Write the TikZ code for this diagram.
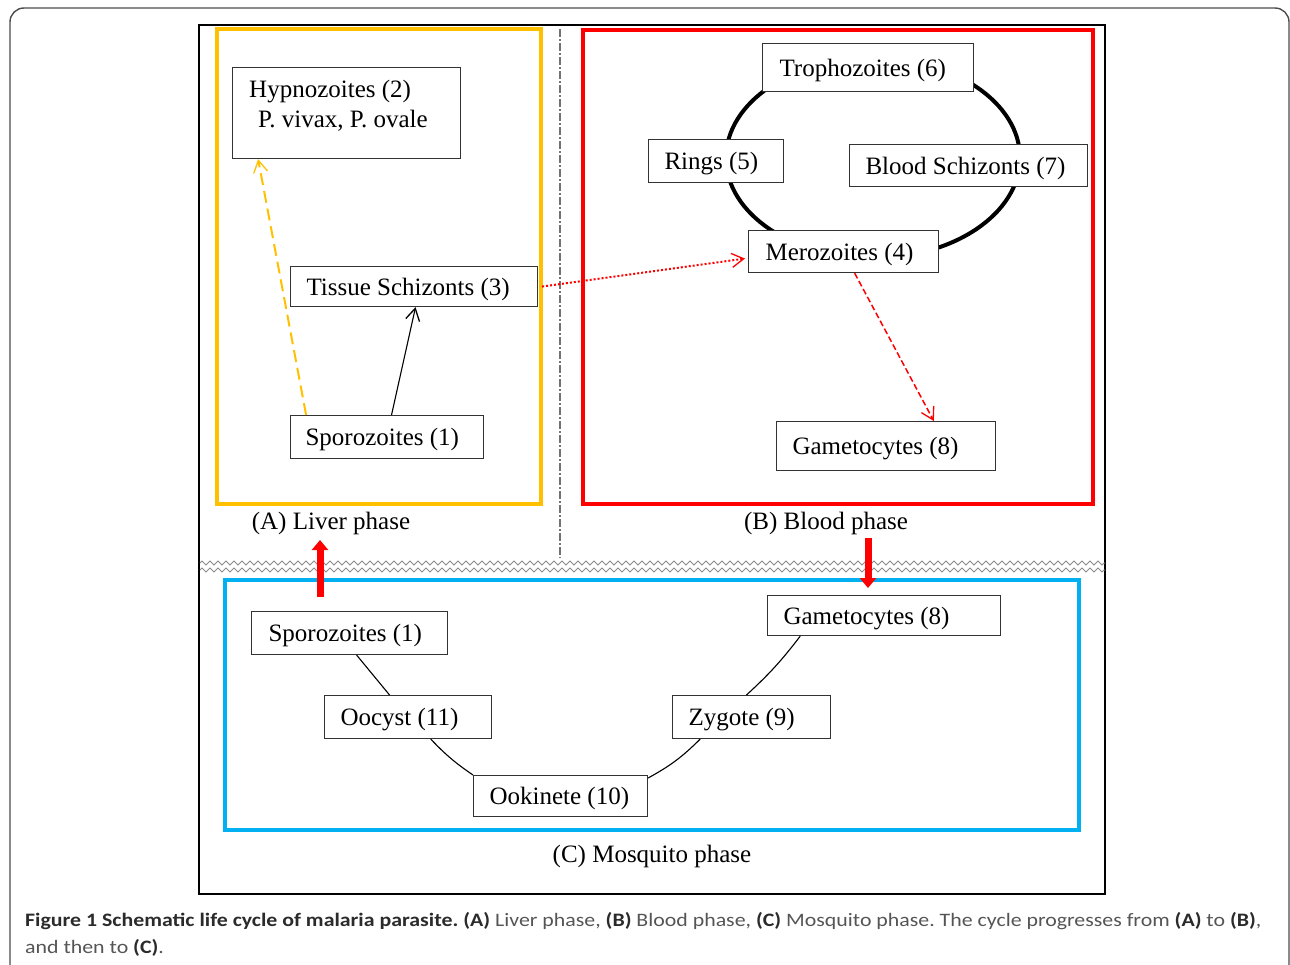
\documentclass[tikz,border=0pt]{standalone}
\usepackage{fontspec}
\setmainfont{Liberation Serif}
\newfontfamily\capfont[FakeStretch=1.15]{Carlito}
\usetikzlibrary{arrows.meta,decorations.pathmorphing,calc}
\definecolor{liver}{HTML}{FFC000}
\definecolor{blood}{HTML}{FF0000}
\definecolor{mosq}{HTML}{00B0F0}
\definecolor{capbold}{HTML}{2B2B2B}
\definecolor{capnorm}{HTML}{555555}
\newcommand\bxt[2]{\raisebox{-2.5pt}[\height][\depth]{\makebox[#1pt][l]{#2}}}
\begin{document}
\begin{tikzpicture}[x=1pt,y=-1pt,
  box/.style={draw=black!80, fill=white, line width=1.1pt, anchor=north west, inner ysep=0pt,
    font=\fontsize{25}{29}\selectfont},
  phase/.style={font=\fontsize{25}{29}\selectfont},
  panel/.style={line width=4pt},
  link/.style={line width=1.1pt, black},
  openhead/.style={-{Straight Barb[length=12pt,width=14pt,line width=1.3pt]}},
  bigarrow/.style={line width=7pt, blood, -{Triangle[length=10pt,width=16pt]}}]
\useasboundingbox (0,0) rectangle (1290,964);
% outer frame
\draw[black!70, line width=1.4pt, rounded corners=14pt] (10,990) -- (10,8) -- (1289,8) -- (1289,990);
% inner black frame
\draw[black, line width=1.5pt] (199,25) rectangle (1105,894);
% panels
\draw[panel, liver] (217,29) rectangle (541,504);
\draw[panel, blood] (583,30) rectangle (1093,504);
\draw[panel, mosq] (225,580) rectangle (1079,830);
\draw[black!55, line width=1.2pt, dash pattern=on 8pt off 2pt on 2pt off 2pt] (560,29) -- (560,558);
% zigzag separator
\draw[black!45, line width=1pt, decorate, decoration={zigzag, segment length=8pt, amplitude=2pt}] (200,563) -- (1105,563);
\draw[black!45, line width=1pt, decorate, decoration={zigzag, segment length=8pt, amplitude=2pt}] (200,570) -- (1105,570);
% phase labels
\node[phase] (lA) at (331,523) {(A) Liver phase};
\node[phase] (lB) at (826,523) {(B) Blood phase};
\node[phase] (lC) at (652,856) {(C) Mosquito phase};
% blood cycle ellipse
\draw[line width=4pt] (873,158) ellipse [x radius=147, y radius=100];
% liver nodes
\node[box, minimum width=228pt, minimum height=91pt] (hyp) at (232,67) {};
\node[anchor=north west, inner sep=0pt, align=left, font=\fontsize{25}{29.5}\selectfont] (hypt) at (249,80) {Hypnozoites (2)\\\hspace*{9pt}P. vivax, P. ovale};
\node[box, minimum width=247pt, minimum height=40pt, inner xsep=16pt] (tis) at (290,266) {\bxt{215}{Tissue Schizonts (3)}};
\node[box, minimum width=193pt, minimum height=43pt, inner xsep=15pt] (spl) at (290,415) {\bxt{163}{Sporozoites (1)}};
% blood nodes
\node[box, minimum width=211pt, minimum height=48pt, inner xsep=17pt] (tro) at (762,43) {\bxt{177}{Trophozoites (6)}};
\node[box, minimum width=135pt, minimum height=43pt, inner xsep=16pt] (rin) at (648,139) {\bxt{103}{Rings (5)}};
\node[box, minimum width=238pt, minimum height=42pt, inner xsep=16pt] (bsc) at (849,144) {\bxt{206}{Blood Schizonts (7)}};
\node[box, minimum width=190pt, minimum height=42pt, inner xsep=17pt] (mer) at (748,230) {\bxt{156}{Merozoites (4)}};
\node[box, minimum width=219pt, minimum height=49pt, inner xsep=16pt] (gam) at (776,421) {\bxt{187}{Gametocytes (8)}};
% mosquito nodes
\node[box, minimum width=196pt, minimum height=43pt, inner xsep=17pt] (mspo) at (251,611) {\bxt{162}{Sporozoites (1)}};
\node[box, minimum width=167pt, minimum height=43pt, inner xsep=16pt] (ooc) at (324,695) {\bxt{135}{Oocyst (11)}};
\node[box, minimum width=174pt, minimum height=41pt, inner xsep=16pt] (ook) at (473,775) {\bxt{142}{Ookinete (10)}};
\node[box, minimum width=158pt, minimum height=43pt, inner xsep=16pt] (zyg) at (672,695) {\bxt{126}{Zygote (9)}};
\node[box, minimum width=233pt, minimum height=40pt, inner xsep=16pt] (mgam) at (767,595) {\bxt{201}{Gametocytes (8)}};
% liver connectors
\draw[link, openhead] ($(spl.north west)!0.523!(spl.north east)$) -- ($(tis.south west)!0.506!(tis.south east)$);
\draw[liver, line width=2pt, dash pattern=on 12pt off 6pt, openhead] ($(spl.north west)!0.083!(spl.north east)$) -- ($(hyp.south west)!0.114!(hyp.south east)$);
% liver -> blood
\draw[blood, line width=2pt, dash pattern=on 2pt off 2pt, openhead] ($(tis.east)+(4,0)$) -- ($(mer.west)+(-3,7)$);
% blood -> gametocytes
\draw[blood, line width=1.5pt, dash pattern=on 6pt off 3pt, openhead] ($(mer.south west)!0.558!(mer.south east)$) -- ($(gam.north west)!0.717!(gam.north east)$);
% mosquito chain
\draw[link] ($(mspo.south west)!0.536!(mspo.south east)$) -- ($(ooc.north west)!0.39!(ooc.north east)$);
\draw[link] ($(ooc.south west)!0.635!(ooc.south east)$) to[bend right=6] (ook.north west);
\draw[link] ($(ook.north east)+(0,3)$) to[bend right=8] ($(zyg.south west)!0.177!(zyg.south east)$);
\draw[link] ($(zyg.north west)!0.468!(zyg.north east)$) to[bend right=5] ($(mgam.south west)!0.142!(mgam.south east)$);
% phase transitions
\coordinate (upT) at (320,597);
\coordinate (upH) at (320,540);
\coordinate (dnT) at (868,538);
\coordinate (dnH) at (868,588);
\draw[bigarrow] (upT) -- (upH);
\draw[bigarrow] (dnT) -- (dnH);
% caption
\node[anchor=base west, inner sep=0pt, font=\capfont\frenchspacing\fontsize{19}{23}\selectfont, text=capnorm] (cap1) at (25,926)
 {\textcolor{capbold}{\bfseries Figure 1 Schematic life cycle of malaria parasite. (A)} Liver phase, \textcolor{capbold}{\bfseries (B)} Blood phase, \textcolor{capbold}{\bfseries (C)} Mosquito phase. The cycle progresses from \textcolor{capbold}{\bfseries (A)} to \textcolor{capbold}{\bfseries (B)},};
\node[anchor=base west, inner sep=0pt, font=\capfont\frenchspacing\fontsize{19}{23}\selectfont, text=capnorm] (cap2) at (25,953)
 {and then to \textcolor{capbold}{\bfseries (C)}.};
\end{tikzpicture}
\end{document}
